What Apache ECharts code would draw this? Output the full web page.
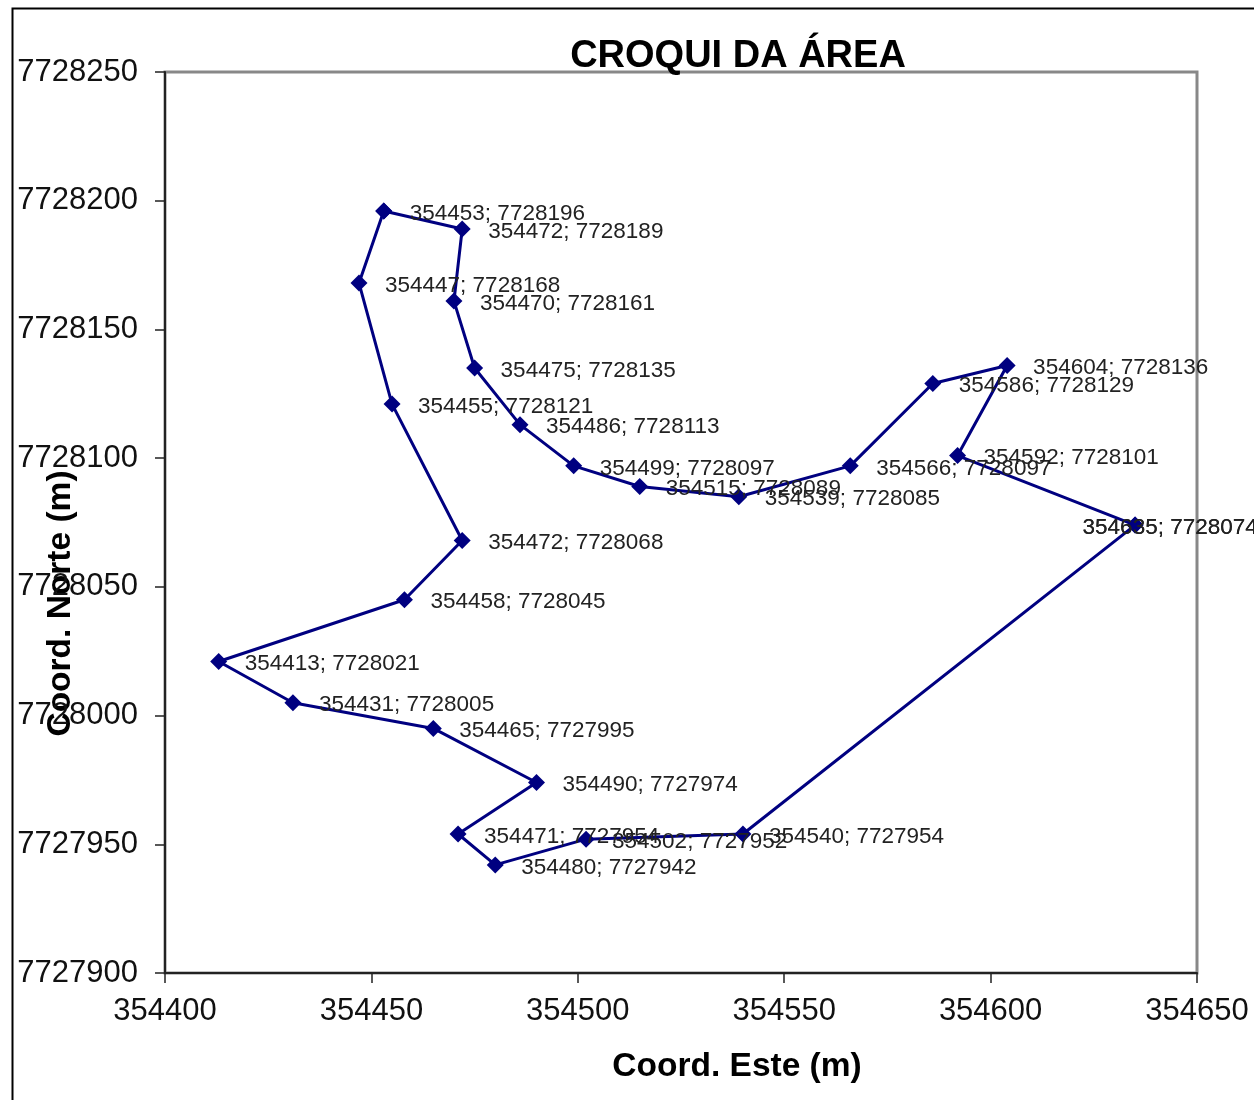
<!DOCTYPE html>
<html>
<head>
<meta charset="utf-8">
<style>html,body{margin:0;padding:0;background:#fff}#c{width:1254px;height:1100px}</style>
<script src="https://cdn.jsdelivr.net/npm/echarts@6/dist/echarts.min.js"></script>
</head>
<body>
<div id="c"></div>
<script>
const chartTitle = 'CROQUI DA ÁREA';
const xName = 'Coord. Este (m)';
const yName = 'Coord. Norte (m)';
const easting = [354453,354472,354470,354475,354486,354499,354515,354539,354566,354586,354604,354592,354635,354635,354540,354502,354480,354471,354490,354465,354431,354413,354458,354472,354455,354447,354453];
const northing = [7728196,7728189,7728161,7728135,7728113,7728097,7728089,7728085,7728097,7728129,7728136,7728101,7728074,7728074,7727954,7727952,7727942,7727954,7727974,7727995,7728005,7728021,7728045,7728068,7728121,7728168,7728196];
const eastMost = Math.max(...easting);
const points = easting.map((x, i) => {
  const item = {value: [x, northing[i]]};
  if (i === easting.length - 1) item.label = {show: false};
  if (x === eastMost) item.label = {distance: -61};
  return item;
});
const FONT = '"Liberation Sans", Arial, sans-serif';

const chart = echarts.init(document.getElementById('c'), null, {renderer: 'canvas'});
const axisCommon = {
  type: 'value',
  interval: 50,
  splitLine: {show: false},
  axisLine: {show: true, onZero: false, lineStyle: {color: '#222', width: 2}},
  axisTick: {show: true, length: 10, lineStyle: {color: '#222', width: 1.5}},
  axisLabel: {color: '#111', fontFamily: FONT, fontSize: 31, formatter: v => String(v), hideOverlap: false, showMinLabel: true, showMaxLabel: true},
  nameLocation: 'middle',
  nameMoveOverlap: false,
  nameTextStyle: {color: '#000', fontFamily: FONT, fontSize: 33.5, fontWeight: 'bold'}
};
chart.setOption({
  animation: false,
  backgroundColor: '#fff',
  title: {
    text: chartTitle, left: 733, top: 33, textAlign: 'center',
    textStyle: {color: '#000', fontFamily: FONT, fontSize: 38, fontWeight: 'bold'}
  },
  grid: {left: 165, right: 57, top: 72, bottom: 127, outerBoundsMode: 'none', containLabel: false, show: true, borderColor: '#888', borderWidth: 3, backgroundColor: 'transparent'},
  xAxis: Object.assign({}, axisCommon, {
    min: 354400, max: 354650, name: xName, nameGap: 77,
    nameTextStyle: Object.assign({}, axisCommon.nameTextStyle, {padding: [0, 0, 0, 112]}),
    axisLabel: Object.assign({}, axisCommon.axisLabel, {margin: 23})
  }),
  yAxis: Object.assign({}, axisCommon, {
    min: 7727900, max: 7728250, name: yName, nameGap: 87,
    nameTextStyle: Object.assign({}, axisCommon.nameTextStyle, {padding: [0, 162, 0, 0]}),
    axisLabel: Object.assign({}, axisCommon.axisLabel, {margin: 27})
  }),
  graphic: [{
    type: 'polyline', silent: true, z: 10,
    shape: {points: [[12.5, 1100], [12.5, 8.5], [1254, 8.5]]},
    style: {stroke: '#000', lineWidth: 2, fill: null}
  }],
  series: [{
    type: 'line',
    data: points,
    clip: false,
    smooth: false,
    symbol: 'diamond',
    symbolSize: 17,
    lineStyle: {color: '#000080', width: 3},
    itemStyle: {color: '#000080'},
    label: {
      show: true, position: 'right', distance: 17.5,
      color: '#222', fontFamily: FONT, fontSize: 22.5, overflow: 'none',
      formatter: p => p.value[0] + '; ' + p.value[1]
    },
    labelLayout: {hideOverlap: false, dy: 2.5}
  }]
});
</script>
</body>
</html>
